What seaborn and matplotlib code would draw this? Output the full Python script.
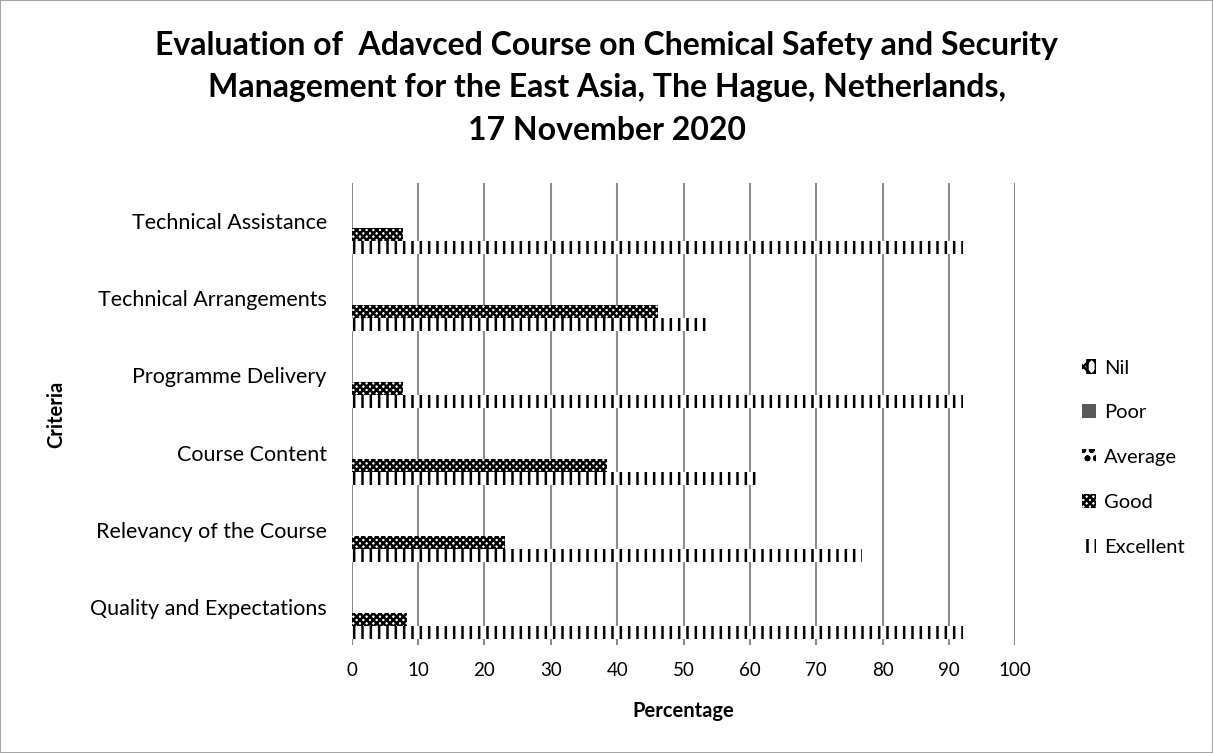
import matplotlib
matplotlib.use('Agg')
import pandas as pd
import seaborn as sns
from matplotlib import pyplot as plt
from matplotlib.patches import Patch, Rectangle

CRITERIA = ["Technical Assistance", "Technical Arrangements", "Programme Delivery",
            "Course Content", "Relevancy of the Course", "Quality and Expectations"]
RATINGS = ["Nil", "Poor", "Average", "Good", "Excellent"]
NIL = [0, 0, 0, 0, 0, 0]
POOR = [0, 0, 0, 0, 0, 0]
AVERAGE = [0, 0, 0, 0, 0, 0]
GOOD = [7.7, 46.2, 7.7, 38.5, 23.1, 8.3]
EXCELLENT = [92.1, 53.4, 92.1, 61.2, 76.9, 92.1]

FACES = {"Nil": "white", "Poor": "#595959", "Average": "white", "Good": "white", "Excellent": "white"}
HATCHES = {"Nil": "xx||", "Poor": "", "Average": "oo", "Good": "xxxxx", "Excellent": "||"}

sns.set_theme(style="white")
plt.rcParams['font.family'] = ['Lato', 'DejaVu Sans']
plt.rcParams['text.color'] = 'black'
plt.rcParams['axes.labelcolor'] = 'black'
plt.rcParams['hatch.linewidth'] = 1.8

rows = []
for rating, vals in zip(RATINGS, [NIL, POOR, AVERAGE, GOOD, EXCELLENT]):
    for crit, v in zip(CRITERIA, vals):
        rows.append({"Criteria": crit, "Rating": rating, "Percentage": v})
df = pd.DataFrame(rows)

fig = plt.figure(figsize=(12.13, 7.53), dpi=100)
ax = fig.add_axes([0.290, 0.1434, 0.547, 0.6136])

sns.barplot(data=df, y="Criteria", x="Percentage", hue="Rating", hue_order=RATINGS,
            order=CRITERIA, orient="h", width=0.85, gap=0, legend=False, ax=ax)

for rating, container in zip(RATINGS, ax.containers):
    for bar in container:
        bar.set_facecolor(FACES[rating])
        bar.set_edgecolor("black")
        bar.set_hatch(HATCHES[rating])
        bar.set_linewidth(0)

ax.set_xlim(0, 100)
ax.set_xticks(range(0, 101, 10))
ax.xaxis.grid(True, color="#8c8c8c", linewidth=1.5)
ax.set_axisbelow(True)
for s in ax.spines.values():
    s.set_visible(False)
ax.tick_params(axis="both", length=0, colors="black")
ax.tick_params(axis="x", pad=12, labelsize=13.5)
ax.tick_params(axis="y", pad=18, labelsize=15.5)
ax.set_xlabel("Percentage", fontsize=14.5, fontweight="bold", labelpad=16)
ax.set_ylabel("Criteria", fontsize=14.5, fontweight="bold")
ax.yaxis.set_label_coords(-0.43, 0.5)

handles = [Patch(facecolor=FACES[r], edgecolor="black", hatch=HATCHES[r], linewidth=0, label=r)
           for r in RATINGS]
fig.legend(handles=handles, loc="center left", bbox_to_anchor=(0.877, 0.392), frameon=False,
           fontsize=14.5, labelspacing=1.38, handlelength=0.7, handleheight=0.7, handletextpad=0.4)

fig.text(0.5, 1 - 88 / 753,
         "Evaluation of  Adavced Course on Chemical Safety and Security\n"
         "Management for the East Asia, The Hague, Netherlands,\n17 November 2020",
         ha="center", va="center", fontsize=23, fontweight="bold", linespacing=1.55)

fig.add_artist(Rectangle((0, 0), 1, 1, transform=fig.transFigure, fill=False,
                         edgecolor="#a6a6a6", linewidth=1.5))

fig.savefig("out.png", dpi=100)
